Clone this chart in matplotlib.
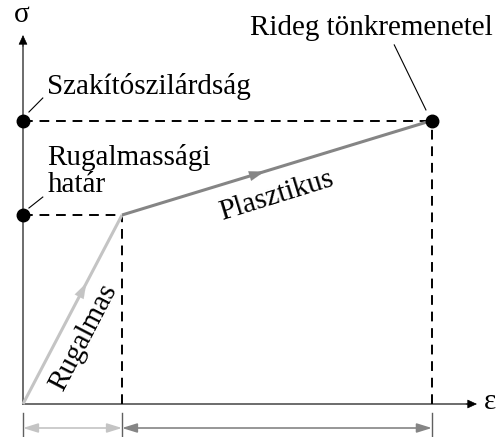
import matplotlib
matplotlib.use("Agg")
import matplotlib.pyplot as plt

plt.rcParams['font.family'] = ['Liberation Serif', 'DejaVu Serif']

# strain / stress of the characteristic points (normalised units)
eps = [0.0, 1.0, 4.13]        # origin, yield, fracture
sig = [0.0, 1.0, 1.50]
eps_max = 4.585               # end of strain axis
sig_max = 1.952               # end of stress axis

labels_sig = ["Rugalmassági", "határ", "Szakítószilárdság"]
label_fracture = "Rideg tönkremenetel"
label_elastic = "Rugalmas"
label_plastic = "Plasztikus"

fig = plt.figure(figsize=(5.0, 4.37), dpi=100)
ax = fig.add_axes([0, 0, 1, 1])
ax.set_xlim(-23 / 99, 477 / 99)
ax.set_ylim(-33 / 189, 404 / 189)
ax.axis('off')

fs = 21
axis_grey = '#606060'
light = '#c4c4c4'
mid = '#858585'

# axes
ax.plot([0, eps_max - 0.1], [0, 0], color=axis_grey, lw=1.3)
ax.plot([0, 0], [0, sig_max - 0.05], color=axis_grey, lw=1.3)
ax.annotate('', xy=(eps_max, 0), xytext=(eps_max - 0.11, 0),
            arrowprops=dict(arrowstyle='-|>,head_length=0.6,head_width=0.28',
                            color='black', lw=0.5, shrinkA=0, shrinkB=0))
ax.annotate('', xy=(0, sig_max), xytext=(0, sig_max - 0.06),
            arrowprops=dict(arrowstyle='-|>,head_length=0.6,head_width=0.28',
                            color='black', lw=0.5, shrinkA=0, shrinkB=0))
ax.text(eps_max + 0.07, 0.01, 'ε', fontsize=fs, ha='left', va='center')
ax.text(-0.01, 2.06, 'σ', fontsize=fs, ha='center', va='center')

# dashed guide lines
dash = dict(color='black', lw=1.4, ls=(0, (5, 3.5)))
ax.plot([0, eps[1]], [sig[1], sig[1]], **dash)
ax.plot([eps[1], eps[1]], [0, sig[1]], **dash)
ax.plot([0, eps[2]], [sig[2], sig[2]], **dash)
ax.plot([eps[2], eps[2]], [0, sig[2]], **dash)

# elastic and plastic branches
ax.plot(eps[0:2], sig[0:2], color=light, lw=2.2, solid_capstyle='butt')
ax.plot(eps[1:3], sig[1:3], color=mid, lw=2.2, solid_capstyle='butt')

def mid_arrow(x0, y0, x1, y1, color, f=0.56):
    xm, ym = x0 + (x1 - x0) * f, y0 + (y1 - y0) * f
    xs, ys = x0 + (x1 - x0) * (f - 0.08), y0 + (y1 - y0) * (f - 0.08)
    ax.annotate('', xy=(xm, ym), xytext=(xs, ys),
                arrowprops=dict(arrowstyle='-|>,head_length=1.1,head_width=0.36',
                                color=color, lw=0.1, shrinkA=0, shrinkB=0))

mid_arrow(eps[0], sig[0], eps[1], sig[1], light, 0.64)
mid_arrow(eps[1], sig[1], eps[2], sig[2], mid, 0.46)

# points
ax.plot([0, 0, eps[2]], [sig[1], sig[2], sig[2]], 'o', color='black', ms=9)

# labels
ax.text(0.245, 1.265, labels_sig[0], fontsize=fs, ha='left', va='baseline')
ax.text(0.245, 1.122, labels_sig[1], fontsize=fs, ha='left', va='baseline')
ax.text(0.245, 1.638, labels_sig[2], fontsize=fs, ha='left', va='baseline')
ax.text(2.29, 1.952, label_fracture, fontsize=fs, ha='left', va='baseline')
ax.plot([0.06, 0.20], [1.037, 1.095], color='black', lw=0.8)
ax.plot([0.06, 0.20], [1.545, 1.619], color='black', lw=0.8)
ax.plot([3.75, 4.07], [1.90, 1.556], color='black', lw=0.8)

ax.text(0.61, 0.354, label_elastic, fontsize=fs, rotation=62.4,
        ha='center', va='center', rotation_mode='anchor')
ax.text(2.566, 1.10, label_plastic, fontsize=fs, rotation=17.2,
        ha='center', va='center', rotation_mode='anchor')

# dimension arrows below the strain axis
yd = -0.127
for x in [0, eps[1], eps[2]]:
    ax.plot([x, x], [-0.048, -0.175], color=axis_grey, lw=1.0, clip_on=False)
ax.annotate('', xy=(0, yd), xytext=(eps[1], yd),
            arrowprops=dict(arrowstyle='<|-|>,head_length=0.9,head_width=0.28',
                            color=light, lw=1.2, shrinkA=0, shrinkB=0))
ax.annotate('', xy=(eps[1], yd), xytext=(eps[2], yd),
            arrowprops=dict(arrowstyle='<|-|>,head_length=0.9,head_width=0.28',
                            color=mid, lw=1.2, shrinkA=0, shrinkB=0))

fig.savefig('out.png', dpi=100)
